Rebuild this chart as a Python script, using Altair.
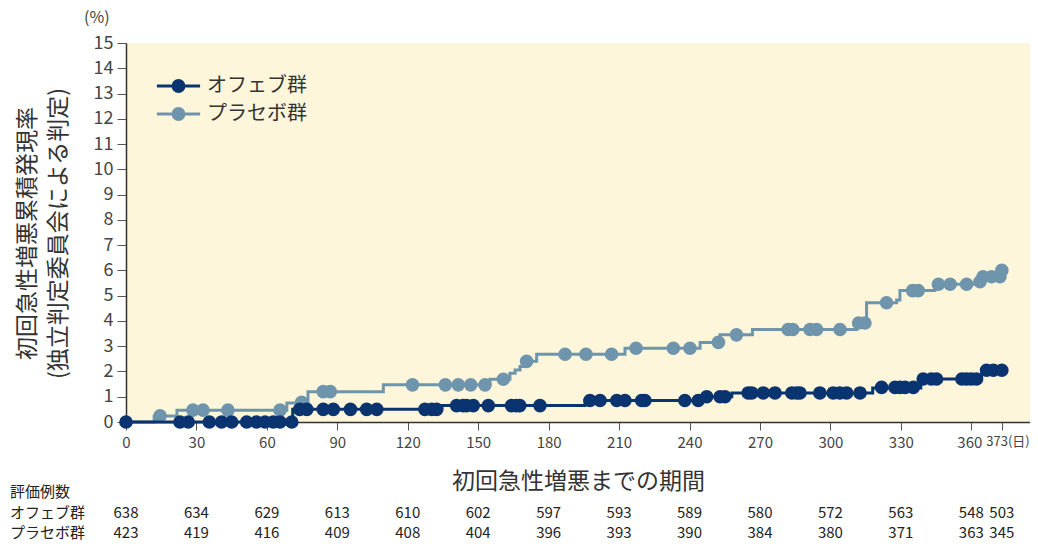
import altair as alt
import pandas as pd

FONT = "Noto Sans CJK JP"

groups = ["オフェブ群", "プラセボ群"]
colors = ["#0a3470", "#6f95ad"]

# Kaplan-Meier style step curves (day, cumulative %)
ofev_step_day = [0, 71, 134.5, 195.5, 245, 258, 318, 338.5, 364.4, 365.8, 373]
ofev_step_val = [0, 0.5, 0.65, 0.85, 1.0, 1.15, 1.35, 1.7, 1.88, 2.05, 2.05]

plac_step_day = [0, 12, 21.7, 68.5, 77.5, 109.6, 155, 163.5, 165.7, 167.8, 170.5, 174.9,
                 212.5, 244.5, 253, 266.8, 311.2, 315.4, 328.2, 329.6, 344.5, 361.6, 364.4, 373]
plac_step_val = [0, 0.24, 0.47, 0.75, 1.2, 1.47, 1.69, 1.93, 2.06, 2.2, 2.4, 2.68,
                 2.92, 3.15, 3.45, 3.66, 3.88, 4.72, 4.83, 5.2, 5.45, 5.59, 5.75, 6.0]

# censoring marks
ofev_cens_day = [0, 23, 26.5, 35.5, 40.7, 45, 51.4, 55.6, 59.2, 62.7, 65.6, 70.6,
                 74, 77, 84, 88.3, 95.6, 102.5, 106.8, 127.3, 130.2, 132.3,
                 140.8, 143.6, 145, 147.9, 154.3, 164.2, 166.3, 167.7, 176.3,
                 197.6, 201.9, 209, 212.5, 219.6, 221, 238, 243.7,
                 247.3, 253, 255.1, 265, 266.5, 271.4, 276.4, 283.6, 285.7, 287,
                 295.5, 301.2, 304, 306.9, 312.6, 321.8, 327.5, 329.6, 331.8, 335.3,
                 339.5, 343, 345.2, 356, 358, 360, 362.2, 366.5, 369.4, 373]
ofev_cens_val = [0, 0, 0, 0, 0, 0, 0, 0, 0, 0, 0, 0,
                 0.5, 0.5, 0.5, 0.5, 0.5, 0.5, 0.5, 0.5, 0.5, 0.5,
                 0.65, 0.65, 0.65, 0.65, 0.65, 0.65, 0.65, 0.65, 0.65,
                 0.85, 0.85, 0.85, 0.85, 0.85, 0.85, 0.85, 0.85,
                 1.0, 1.0, 1.0, 1.15, 1.15, 1.15, 1.15, 1.15, 1.15, 1.15,
                 1.15, 1.15, 1.15, 1.15, 1.15, 1.37, 1.37, 1.37, 1.37, 1.37,
                 1.7, 1.7, 1.7, 1.7, 1.7, 1.7, 1.7, 2.05, 2.05, 2.05]

plac_cens_day = [14.5, 28.5, 32.8, 43.4, 65.6, 74.8, 84, 87, 122, 136, 141.5, 146.8, 152.9,
                 160.7, 170.6, 187, 195.9, 206.8, 217.2, 233.1, 240.2, 252.3, 260,
                 282, 284, 291.3, 294.1, 304.1, 312, 314.7, 323.9, 335, 337.4,
                 346, 351, 358, 363.7, 365, 368.6, 372.2, 373]
plac_cens_val = [0.24, 0.47, 0.47, 0.47, 0.47, 0.78, 1.2, 1.2, 1.47, 1.47, 1.47, 1.47, 1.47,
                 1.69, 2.4, 2.68, 2.68, 2.68, 2.92, 2.92, 2.92, 3.15, 3.45,
                 3.66, 3.66, 3.66, 3.66, 3.66, 3.92, 3.92, 4.72, 5.2, 5.2,
                 5.45, 5.45, 5.45, 5.55, 5.75, 5.75, 5.75, 6.0]

# number at risk table
table_days = [0, 30, 60, 90, 120, 150, 180, 210, 240, 270, 300, 330, 360, 373]
ofev_n = [638, 634, 629, 613, 610, 602, 597, 593, 589, 580, 572, 563, 548, 503]
plac_n = [423, 419, 416, 409, 408, 404, 396, 393, 390, 384, 380, 371, 363, 345]
y_ticks = list(range(0, 16))

ofev_line = pd.DataFrame({"day": ofev_step_day, "pct": ofev_step_val, "group": groups[0]})
plac_line = pd.DataFrame({"day": plac_step_day, "pct": plac_step_val, "group": groups[1]})
ofev_pts = pd.DataFrame({"day": ofev_cens_day, "pct": ofev_cens_val, "group": groups[0]})
plac_pts = pd.DataFrame({"day": plac_cens_day, "pct": plac_cens_val, "group": groups[1]})
ofev_tab = pd.DataFrame({"day": table_days, "n": ofev_n})
plac_tab = pd.DataFrame({"day": table_days, "n": plac_n})

x_scale = alt.Scale(domain=[0, 385], nice=False, zero=False)
y_scale = alt.Scale(domain=[0, 15], nice=False)
col_scale = alt.Scale(domain=groups, range=colors)

is373 = "datum.value == 373"
x_axis = alt.Axis(
    values=table_days, tickCount=30, title="初回急性増悪までの期間", titleFont=FONT,
    titleFontSize=23, titleFontWeight="normal", titleColor="#333", titleY=59,
    titleBaseline="middle", labelFont=FONT, labelColor="#444", labelPadding=5,
    labelFontSize={"condition": {"test": is373, "value": 13}, "value": 15},
    labelExpr="datum.value == 373 ? '373(日)' : datum.label",
    labelAlign={"condition": {"test": is373, "value": "left"}, "value": "center"},
    labelOffset={"condition": [{"test": is373, "value": -16},
                               {"test": "datum.value == 360", "value": -2}], "value": 0},
    labelFlush=False, labelOverlap=False, tickSize=8, tickColor="#555", domainColor="#333",
    domainWidth=1.5, grid=False,
)
y_axis = alt.Axis(
    values=y_ticks, tickCount=20, title=["初回急性増悪累積発現率", "(独立判定委員会による判定)"],
    titleFont=FONT, titleFontSize=23, titleFontWeight="normal", titleColor="#333",
    titleX=-99, titleY=190, titleAlign="center", titleBaseline="middle", titleLineHeight=31,
    labelFont=FONT, labelFontSize=18, labelColor="#444", labelPadding=4, labelFlush=False,
    labelOverlap=False, tickSize=9, tickColor="#555", domainColor="#333", domainWidth=1.5,
    grid=False,
)

sym_path = "M-1.6,0L1.6,0M0.4,0A0.4,0.4,0,1,1,-0.4,0A0.4,0.4,0,1,1,0.4,0Z"
legend = alt.Legend(
    title=None, orient="none", legendX=37.5, legendY=28, symbolType=sym_path, symbolSize=729,
    symbolStrokeWidth=3, labelFont=FONT, labelFontSize=20, labelColor="#333",
    labelOffset=13.5, rowPadding=1, padding=0, symbolOpacity=1,
)


def line_layer(df):
    return alt.Chart(df).mark_line(interpolate="step-after", strokeWidth=3).encode(
        x=alt.X("day:Q", scale=x_scale, axis=x_axis),
        y=alt.Y("pct:Q", scale=y_scale, axis=y_axis),
        color=alt.Color("group:N", scale=col_scale, legend=legend),
    )


def point_layer(df):
    return alt.Chart(df).mark_point(filled=True, size=113, strokeWidth=3, opacity=1).encode(
        x=alt.X("day:Q", scale=x_scale, axis=x_axis),
        y=alt.Y("pct:Q", scale=y_scale, axis=y_axis),
        fill=alt.Fill("group:N", scale=col_scale, legend=legend),
        stroke=alt.Stroke("group:N", scale=col_scale, legend=legend),
    )


def table_row(df, ypix):
    return alt.Chart(df).mark_text(font=FONT, fontSize=15, color="#222", baseline="middle").encode(
        x=alt.X("day:Q", scale=x_scale, axis=x_axis), y=alt.value(ypix), text="n:Q"
    )


one = pd.DataFrame({"a": [0]})


def row_label(txt, ypix):
    return alt.Chart(one).mark_text(font=FONT, fontSize=15, color="#222", align="left",
                                    baseline="middle").encode(
        x=alt.value(-116), y=alt.value(ypix), text=alt.value(txt)
    )


chart = alt.layer(
    line_layer(plac_line), point_layer(plac_pts),
    line_layer(ofev_line), point_layer(ofev_pts),
    table_row(ofev_tab, 470), table_row(plac_tab, 490),
    row_label("評価例数", 449), row_label(groups[0], 470), row_label(groups[1], 490),
).properties(
    width=904, height=379,
    title=alt.TitleParams("(%)", anchor="start", frame="group", dx=-42, offset=8,
                          font=FONT, fontSize=16, fontWeight="normal", color="#444"),
    autosize=alt.AutoSizeParams(type="none"),
    padding={"left": 118, "top": 35, "right": 0, "bottom": 120},
).configure(background="white").configure_view(fill="#fdf6da", strokeWidth=0)

chart.save("out.html", embed_options={"renderer": "svg", "actions": False})
